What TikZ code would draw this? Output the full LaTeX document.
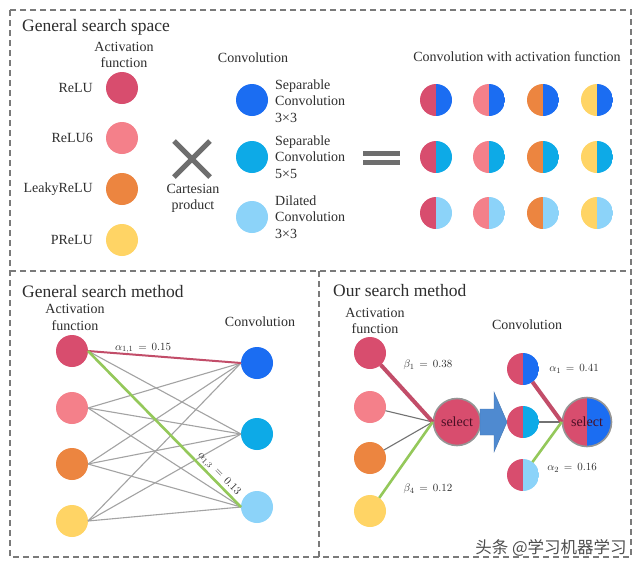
\documentclass[tikz,border=0pt]{standalone}
\usepackage{fontspec}
\setmainfont{Liberation Serif}
\newfontfamily\cjk{Noto Sans CJK SC}
\definecolor{cRelu}{HTML}{D84D6E}
\definecolor{cRelusix}{HTML}{F4808A}
\definecolor{cLeaky}{HTML}{EC8540}
\definecolor{cPrelu}{HTML}{FFD465}
\definecolor{cSep}{HTML}{1B6DF2}
\definecolor{cSepfive}{HTML}{0DAAE7}
\definecolor{cDil}{HTML}{8CD3F9}
\definecolor{txt}{HTML}{2E2E2E}
\definecolor{frm}{HTML}{7A7A7A}
\definecolor{symb}{HTML}{6E6E6E}
\definecolor{redline}{HTML}{C24D69}
\definecolor{greenline}{HTML}{94C85A}
\definecolor{grayline}{HTML}{A3A3A3}
\definecolor{arrowblue}{HTML}{4F8AD0}
\definecolor{seltxt}{HTML}{4A0F25}
\tikzset{
  frame/.style={draw=frm, dash pattern=on 6pt off 4pt, line width=1.1pt},
  dot/.style={circle, minimum size=#1, inner sep=0pt, outer sep=0pt},
  dot/.default=32pt,
  halfdot/.style 2 args={circle, minimum size=32pt, inner sep=0pt, outer sep=0pt,
    path picture={\fill[#1] (path picture bounding box.south west) rectangle (path picture bounding box.north);
                  \fill[#2] (path picture bounding box.south) rectangle (path picture bounding box.north east);}},
  lbl/.style={font=\fontsize{14}{16.5}\selectfont, text=txt, inner sep=0pt},
  ttl/.style={font=\fontsize{17.5}{20}\selectfont, text=txt, anchor=west, inner sep=0pt},
  mlbl/.style={font=\fontsize{11}{13}\selectfont, text=txt, inner sep=1pt},
  symbar/.style={draw=symb, line width=5pt},
  graylink/.style={draw=grayline, line width=1.1pt},
  redlink/.style={draw=redline, line width=#1},
  greenlink/.style={draw=greenline, line width=#1},
  selnode/.style={circle, minimum size=#1, inner sep=0pt, draw=frm!80, line width=1.6pt,
    font=\fontsize{14}{16}\selectfont, text=seltxt},
}
\begin{document}
\begin{tikzpicture}[x=1pt,y=-1pt]
\useasboundingbox (0,0) rectangle (640,568);
\fill[white] (0,0) rectangle (640,568);
% frames
\draw[frame] (10,10) rectangle (631,557);
\draw[frame] (10,271) -- (631,271);
\draw[frame] (319,271) -- (319,557);

% ===== General search space =====
\node[ttl] (t1) at (22,27) {General search space};
\node[lbl, align=center] (actl1) at (124,55) {Activation\\function};
\foreach \n/\c/\y/\t in {a1/cRelu/88/ReLU, a2/cRelusix/138/ReLU6, a3/cLeaky/189/LeakyReLU, a4/cPrelu/240/PReLU}{
  \node[dot, fill=\c] (s\n) at (122,\y) {};
  \node[lbl, anchor=east] (s\n l) at (93,\y) {\t};
}
% cross
\coordinate (xc) at (192,159);
\draw[symbar] ([shift={(-18,-18)}]xc) -- ([shift={(18,18)}]xc);
\draw[symbar] ([shift={(-18,18)}]xc) -- ([shift={(18,-18)}]xc);
\node[lbl, align=center] (cart) at (193,198.5) {Cartesian\\product};
% convolutions
\node[lbl] (convl1) at (253,58) {Convolution};
\foreach \n/\c/\y in {c1/cSep/100, c2/cSepfive/157, c3/cDil/217}{
  \node[dot, fill=\c] (s\n) at (252,\y) {};
}
\node[lbl, anchor=west, align=left] (sc1l) at (275,101) {Separable\\Convolution\\3×3};
\node[lbl, anchor=west, align=left] (sc2l) at (275,157) {Separable\\Convolution\\5×5};
\node[lbl, anchor=west, align=left] (sc3l) at (275,217) {Dilated\\Convolution\\3×3};
% equals
\draw[symbar] (363,153.5) -- (400,153.5);
\draw[symbar] (363,162.5) -- (400,162.5);
% grid
\node[lbl] (gridl) at (517,57) {Convolution with activation function};
\foreach \col/\x/\ca in {1/436/cRelu, 2/489/cRelusix, 3/543/cLeaky, 4/597/cPrelu}{
  \foreach \row/\y/\cc in {1/100/cSep, 2/157/cSepfive, 3/213/cDil}{
    \node[halfdot={\ca}{\cc}] (g\col\row) at (\x,\y) {};
  }
}

% ===== General search method =====
\node[ttl] (t2) at (22,292) {General search method};
\node[lbl, align=center] (actl2) at (75,317.5) {Activation\\function};
\node[lbl] (convl2) at (260,322) {Convolution};
\foreach \n/\c/\y in {1/cRelu/351, 2/cRelusix/408, 3/cLeaky/464, 4/cPrelu/521}{
  \node[dot, fill=\c] (ga\n) at (72,\y) {};
}
\foreach \n/\c/\y in {1/cSep/363, 2/cSepfive/434, 3/cDil/507}{
  \node[dot, fill=\c] (gc\n) at (257,\y) {};
}
\draw[graylink] (ga1.east) -- (gc2.west);
\foreach \i in {2,3,4}{
  \foreach \j in {1,2,3}{
    \draw[graylink] (ga\i.east) -- (gc\j.west);
  }
}
\draw[redlink=2pt] (ga1.east) -- node[mlbl, above, pos=0.36] {$\alpha_{1,1}\,=\,0.15$} (gc1.west);
\draw[greenlink=2.6pt] (ga1.east) -- node[mlbl, above, sloped, pos=0.82] {$\alpha_{1,3}\,=\,0.13$} (gc3.west);

% ===== Our search method =====
\node[ttl] (t3) at (333,291) {Our search method};
\node[lbl, align=center] (actl3) at (375,321) {Activation\\function};
\node[lbl] (convl3) at (527,325) {Convolution};
\foreach \n/\c/\y in {1/cRelu/353, 2/cRelusix/407, 3/cLeaky/458, 4/cPrelu/511}{
  \node[dot, fill=\c] (oa\n) at (370,\y) {};
}
\node[selnode=47pt, fill=cRelu] (sel1) at (457,422) {select};
\draw[draw=grayline!70!black, line width=1.1pt] (oa2) -- (sel1.west);
\draw[draw=grayline!70!black, line width=1.1pt] (oa3) -- (sel1.west);
\draw[redlink=4pt] (oa1) -- (sel1.west);
\draw[greenlink=2.6pt] (oa4) -- (sel1.west);
\node[mlbl] (b1) at (428,365) {$\beta_{1}\,=\,0.38$};
\node[mlbl] (b4) at (428,489) {$\beta_{4}\,=\,0.12$};
% big arrow
\fill[arrowblue, draw=arrowblue!85!black, line width=0.4pt]
  (480,409) -- (494,409) -- (494,392) -- (507,422) -- (494,452) -- (494,435) -- (480,435) -- cycle;
% half circles
\node[halfdot={cRelu}{cSep}] (oh1) at (523,369) {};
\node[halfdot={cRelu}{cSepfive}] (oh2) at (523,422) {};
\node[halfdot={cRelu}{cDil}] (oh3) at (523,475) {};
\node[selnode=49pt, path picture={\fill[cRelu] (path picture bounding box.south west) rectangle (path picture bounding box.north);
      \fill[cSep] (path picture bounding box.south) rectangle (path picture bounding box.north east);}] (sel2) at (587,422) {select};
\draw[draw=grayline!70!black, line width=1.1pt] (oh2.east) -- (sel2.west);
\draw[redlink=4pt] (oh1) -- (sel2.west);
\draw[greenlink=2.6pt] (oh3) -- (sel2.west);
\node[mlbl] (al1) at (574,369) {$\alpha_{1}\,=\,0.41$};
\node[mlbl] (al2) at (572,468) {$\alpha_{2}\,=\,0.16$};
% watermark
\node[font=\cjk\fontsize{16.5}{19}\selectfont, text=txt!85, inner sep=0pt] (wm) at (551,548) {头条 @学习机器学习};
\end{tikzpicture}
\end{document}
